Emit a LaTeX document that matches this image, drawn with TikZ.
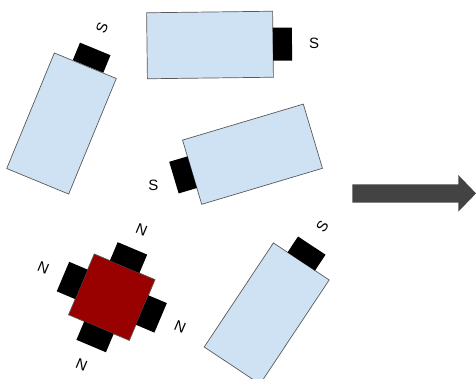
\documentclass[tikz,border=0pt]{standalone}
\usepackage{fontspec}
\setmainfont{Liberation Sans}
\definecolor{magblue}{HTML}{CFE2F3}
\definecolor{magred}{HTML}{990000}
\definecolor{edgegray}{HTML}{595959}
\definecolor{arrowgray}{HTML}{434343}
\begin{document}
\begin{tikzpicture}[x=1pt,y=-1pt,
  body/.style={draw=edgegray, line width=0.7pt, fill=magblue, inner sep=0pt, outer sep=0pt},
  longbody/.style={body, minimum width=67, minimum height=125},
  widebody/.style={body, minimum width=126, minimum height=66},
  capv/.style={fill=black, inner sep=0pt, outer sep=0pt, minimum width=33, minimum height=19},
  caph/.style={fill=black, inner sep=0pt, outer sep=0pt, minimum width=19, minimum height=33},
  lab/.style={inner sep=0pt, font=\fontsize{15}{15}\selectfont},
  pole/.style={fill=black, inner sep=0pt, outer sep=0pt, minimum width=32, minimum height=20}
]
\useasboundingbox (0,0) rectangle (476,378);

% magnet 1 (top left)
\node[capv, rotate=-22.4, anchor=south] (c1) at (88,66.5) {};
\node[longbody, rotate=-22.4] (m1) at (61.5,123.5) {};
\node[lab, rotate=67.6] (s1) at (102,28) {S};

% magnet 2 (top)
\node[widebody, rotate=0.7] (m2) at (210,45) {};
\node[caph, rotate=0.7, anchor=west] (c2) at (m2.east) {};
\node[lab] (s2) at (314,43) {S};

% magnet 3 (middle)
\node[widebody, rotate=16.6, minimum height=67] (m3) at (252.5,154.2) {};
\node[caph, rotate=16.6, anchor=east] (c3) at (m3.west) {};
\node[lab] (s3) at (153.3,185) {S};

% magnet 4 (bottom right)
\node[longbody, rotate=-33.6] (m4) at (266.7,313.5) {};
\node[capv, rotate=-33.6, anchor=south] (c4) at (m4.north) {};
\node[lab, rotate=56.4] (s4) at (322.3,226) {S};

% red square with four poles
\node[draw=edgegray, line width=0.7pt, fill=magred, inner sep=0pt, outer sep=0pt,
      minimum size=66, rotate=-22.9] (sq) at (111.8,297.2) {};
\node[pole, rotate=-22.9, anchor=south] (pn) at (sq.north) {};
\node[pole, rotate=-22.9, anchor=north] (ps) at (sq.south) {};
\node[pole, rotate=-22.9+90, anchor=south] (pw) at (sq.west) {};
\node[pole, rotate=-22.9-90, anchor=south] (pe) at (sq.east) {};
\node[lab, rotate=-22.9] (n1) at (141.7,230) {N};
\node[lab, rotate=-22.9] (n2) at (43.3,268.3) {N};
\node[lab, rotate=-22.9] (n3) at (180,326.7) {N};
\node[lab, rotate=-22.9] (n4) at (81.7,365) {N};

% arrow
\fill[arrowgray] (352.3,184.3) -- (458.3,184.3) -- (458.3,175) -- (476,193.4)
  -- (458.3,211.7) -- (458.3,202.7) -- (352.3,202.7) -- cycle;
\end{tikzpicture}
\end{document}
